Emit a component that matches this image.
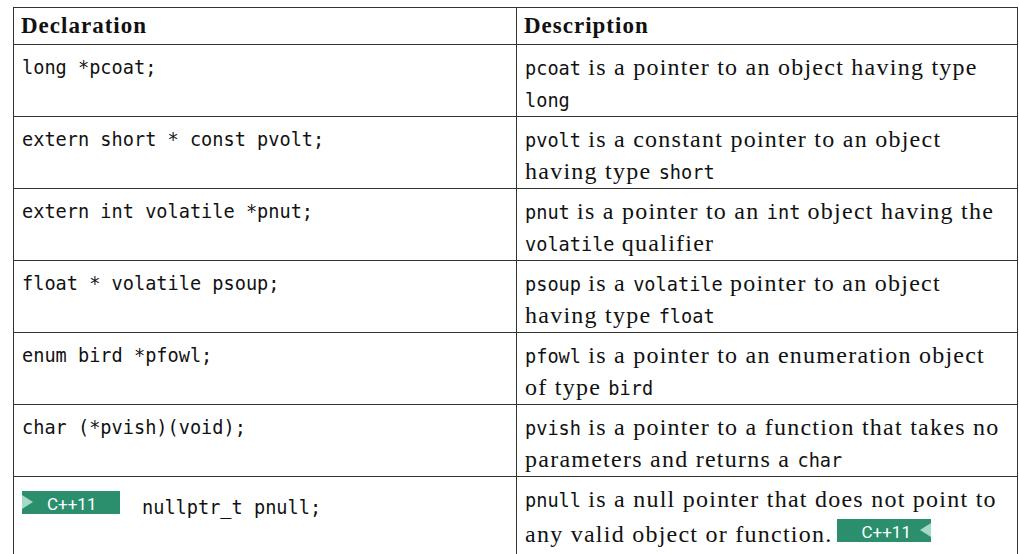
import React from "react";

// column headers
const headers = ["Declaration", "Description"];

// declarations (left column)
const declarations = [
  "long *pcoat;",
  "extern short * const pvolt;",
  "extern int volatile *pnut;",
  "float * volatile psoup;",
  "enum bird *pfowl;",
  "char (*pvish)(void);",
  "nullptr_t pnull;",
];

// descriptions, one entry per visual line; `code` marks monospace runs
const descriptions = [
  ["`pcoat` is a pointer to an object having type", "`long`"],
  ["`pvolt` is a constant pointer to an object", "having type `short`"],
  ["`pnut` is a pointer to an `int` object having the", "`volatile` qualifier"],
  ["`psoup` is a `volatile` pointer to an object", "having type `float`"],
  ["`pfowl` is a pointer to an enumeration object", "of type `bird`"],
  ["`pvish` is a pointer to a function that takes no", "parameters and returns a `char`"],
  ["`pnull` is a null pointer that does not point to", "any valid object or function."],
];

// rows carrying the C++11 marker
const cpp11Rows = [6];

const MONO = "'DejaVu Sans Mono', monospace";
const SERIF = "'Liberation Serif', serif";
const GREEN = "#2b8f6e";
const LIGHT = "#a6dac6";

function Rich({ text }: { text: string }) {
  const parts = text.split("`");
  return (
    <>
      {parts.map((p, i) =>
        i % 2 === 1 ? (
          <span key={i} style={{ fontFamily: MONO, fontSize: 18.6, letterSpacing: 0 }}>
            {p}
          </span>
        ) : (
          <span key={i}>{p}</span>
        )
      )}
    </>
  );
}

function Badge({ side }: { side: "start" | "end" }) {
  const tri: React.CSSProperties = {
    position: "absolute",
    top: 4,
    width: 0,
    height: 0,
    borderTop: "7.5px solid transparent",
    borderBottom: "7.5px solid transparent",
  };
  return (
    <span
      style={{
        display: "inline-block",
        height: 23,
        width: side === "start" ? 98 : 94,
        background: GREEN,
        verticalAlign: 0,
        position: "relative",
        fontFamily: "'Roboto', 'Liberation Sans', sans-serif",
        fontSize: 17,
        lineHeight: "23px",
        letterSpacing: 0,
        color: "#fff",
      }}
    >
      {side === "start" && <span style={{ ...tri, left: 0, borderLeft: `11px solid ${LIGHT}` }} />}
      <span style={{ position: "absolute", left: 25, top: 2, lineHeight: "23px" }}>C++11</span>
      {side === "end" && <span style={{ ...tri, right: 0, borderRight: `11px solid ${LIGHT}` }} />}
    </span>
  );
}

const cellBase: React.CSSProperties = {
  border: "1.5px solid #333",
  verticalAlign: "top",
  padding: "7px 8px 0 8px",
  lineHeight: "30px",
  boxSizing: "border-box",
};

export default function App() {
  return (
    <div style={{ position: "absolute", left: 13, top: 7, width: 1004, background: "#fff" }}>
      <table
        style={{
          borderCollapse: "collapse",
          width: 1004,
          tableLayout: "fixed",
          fontFamily: SERIF,
          fontSize: 24,
          letterSpacing: 1.25,
          color: "#111",
        }}
      >
        <colgroup>
          <col style={{ width: 503 }} />
          <col style={{ width: 501 }} />
        </colgroup>
        <thead>
          <tr style={{ height: 37 }}>
            {headers.map((h) => (
              <th
                key={h}
                style={{
                  ...cellBase,
                  textAlign: "left",
                  padding: "3px 7px 0 7px",
                  fontWeight: 700,
                  fontSize: 23,
                  letterSpacing: 1.0,
                }}
              >
                {h}
              </th>
            ))}
          </tr>
        </thead>
        <tbody>
          {declarations.map((d, i) => {
            const isCpp = cpp11Rows.includes(i);
            const lastRow = i === declarations.length - 1;
            return (
              <tr key={d} style={{ height: lastRow ? 90 : 72 }}>
                <td
                  style={{
                    ...cellBase,
                    paddingTop: isCpp ? 14 : 8,
                    fontFamily: MONO,
                    fontSize: 18.6,
                    letterSpacing: 0,
                  }}
                >
                  {isCpp && (
                    <>
                      <Badge side="start" />
                      <span style={{ display: "inline-block", width: 22 }} />
                    </>
                  )}
                  {d}
                </td>
                <td style={cellBase}>
                  {descriptions[i].map((line, j) => {
                    const last = j === descriptions[i].length - 1;
                    return (
                      <div key={j} style={{ whiteSpace: "nowrap", marginTop: isCpp && last ? 3 : 0 }}>
                        <Rich text={line} />
                        {isCpp && last && (
                          <>
                            <span style={{ display: "inline-block", width: 4 }} />
                            <Badge side="end" />
                          </>
                        )}
                      </div>
                    );
                  })}
                </td>
              </tr>
            );
          })}
        </tbody>
      </table>
    </div>
  );
}
